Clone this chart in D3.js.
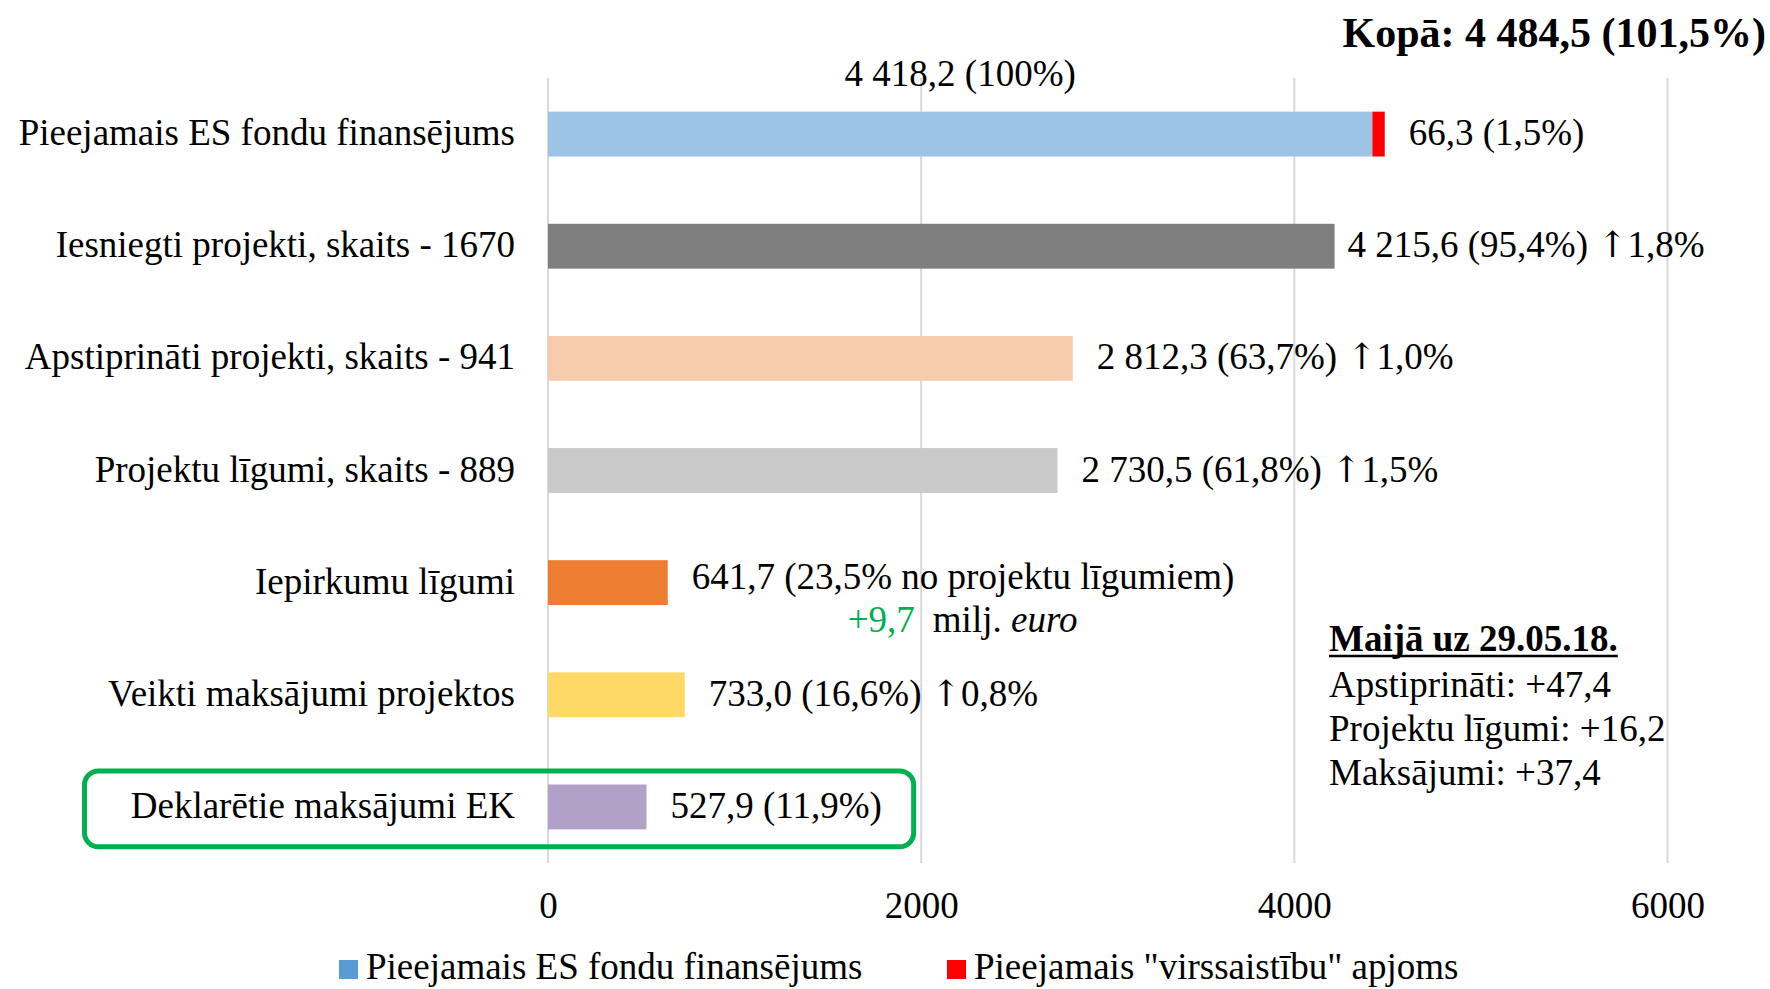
<!DOCTYPE html>
<html>
<head>
<meta charset="utf-8">
<script src="https://cdn.jsdelivr.net/npm/d3@7"></script>
<style>
  html, body { margin: 0; padding: 0; background: #fff; }
  svg { display: block; }
  text { font-family: "Liberation Serif", "Times New Roman", serif; fill: #000; }
</style>
</head>
<body>
<svg id="chart" width="1770" height="989"></svg>
<script>
// ---- data ----
const categories = [
  "Pieejamais ES fondu finansējums",
  "Iesniegti projekti, skaits - 1670",
  "Apstiprināti projekti, skaits - 941",
  "Projektu līgumi, skaits - 889",
  "Iepirkumu līgumi",
  "Veikti maksājumi projektos",
  "Deklarētie maksājumi EK"
];
const mainValues = [4418.2, 4215.6, 2812.3, 2730.5, 641.7, 733.0, 527.9];
const overValues = [66.3, 0, 0, 0, 0, 0, 0];
const barColors = ["#9DC3E6", "#7F7F7F", "#F8CBAD", "#C9C9C9", "#ED7D31", "#FFD966", "#B1A0C7"];
const overColor = "#FF0000";
const valueLabels = [
  "66,3 (1,5%)",
  "4 215,6 (95,4%) ↑1,8%",
  "2 812,3 (63,7%) ↑1,0%",
  "2 730,5 (61,8%) ↑1,5%",
  "641,7 (23,5% no projektu līgumiem)",
  "733,0 (16,6%) ↑0,8%",
  "527,9 (11,9%)"
];
const topLabel = "4 418,2 (100%)";
const totalLabel = "Kopā: 4 484,5 (101,5%)";
const procurementDelta = "+9,7";
const xTicks = [0, 2000, 4000, 6000];
const noteTitle = "Maijā uz 29.05.18.";
const noteLines = ["Apstiprināti: +47,4", "Projektu līgumi: +16,2", "Maksājumi: +37,4"];
const legendItems = [
  { name: "Pieejamais ES fondu finansējums", color: "#5B9BD5" },
  { name: "Pieejamais \"virssaistību\" apjoms", color: "#FF0000" }
];

// ---- layout ----
const svg = d3.select("#chart");
const FS = 37;
const x = d3.scaleLinear().domain([0, 6000]).range([548, 1667.5]);
const y = d3.scaleBand().domain(categories).range([78, 863]).paddingInner(0.6).paddingOuter(0.3);
const plotTop = 78, plotBottom = 863;

// gridlines
svg.append("g").selectAll("line").data(xTicks).join("line")
  .attr("x1", d => x(d)).attr("x2", d => x(d))
  .attr("y1", plotTop).attr("y2", plotBottom)
  .attr("stroke", "#D9D9D9").attr("stroke-width", 2);

// axis tick labels
const xAxis = d3.axisBottom(x).tickValues(xTicks).tickFormat(d3.format("d")).tickSize(0).tickPadding(0);
const ax = svg.append("g").attr("transform", `translate(0,${plotBottom})`).call(xAxis);
ax.select(".domain").remove();
ax.selectAll("text")
  .attr("font-family", "Liberation Serif, Times New Roman, serif")
  .attr("font-size", FS).attr("fill", "#000")
  .attr("dy", null).attr("y", 55);

// bars
const rows = categories.map((c, i) => ({ c, i, v: mainValues[i], o: overValues[i] }));
svg.append("g").selectAll("rect").data(rows).join("rect")
  .attr("x", x(0)).attr("y", d => y(d.c))
  .attr("width", d => x(d.v) - x(0)).attr("height", y.bandwidth())
  .attr("fill", d => barColors[d.i]);
svg.append("g").selectAll("rect").data(rows.filter(d => d.o > 0)).join("rect")
  .attr("x", d => x(d.v)).attr("y", d => y(d.c))
  .attr("width", d => x(d.v + d.o) - x(d.v)).attr("height", y.bandwidth())
  .attr("fill", overColor);

// category labels
svg.append("g").selectAll("text").data(rows).join("text")
  .attr("x", 515).attr("y", d => y(d.c) + y.bandwidth() / 2 + 11)
  .attr("text-anchor", "end").attr("font-size", FS)
  .text(d => d.c);

// value labels (arrow rendered with a taller thin glyph)
const gaps = d => (d.i === 1 ? 13 : 24);
const vl = svg.append("g").selectAll("text").data(rows).join("text")
  .attr("x", d => x(d.v + d.o) + gaps(d))
  .attr("y", d => y(d.c) + y.bandwidth() / 2 + (d.i === 4 ? 6 : 11))
  .attr("font-size", FS);
vl.each(function (d) {
  const parts = valueLabels[d.i].split("↑");
  const t = d3.select(this);
  t.append("tspan").text(parts[0].trimEnd() + "\u00A0");
  if (parts.length > 1) {
    t.append("tspan").attr("font-family", "DejaVu Serif").attr("font-size", 36).text("↑");
    t.append("tspan").text(parts[1]);
  }
});

// second line for procurement
const pr = rows[4];
const l2 = svg.append("text")
  .attr("x", x(pr.v) + 180).attr("y", y(pr.c) + y.bandwidth() / 2 + 49)
  .attr("font-size", FS);
l2.append("tspan").attr("fill", "#00B050").text(procurementDelta);
l2.append("tspan").attr("dx", 18).text("milj. ");
l2.append("tspan").attr("font-style", "italic").text("euro");

// top label centered over first bar
svg.append("text")
  .attr("x", x(mainValues[0] / 2)).attr("y", 86)
  .attr("text-anchor", "middle").attr("font-size", FS)
  .text(topLabel);

// total
svg.append("text")
  .attr("x", 1766).attr("y", 47)
  .attr("text-anchor", "end").attr("font-size", 42).attr("font-weight", "bold")
  .text(totalLabel);

// highlight box around last category
const last = categories[categories.length - 1];
svg.append("rect")
  .attr("x", 84.5).attr("y", y(last) - 13.5)
  .attr("width", x(2000) - 7.5 - 84.5).attr("height", y.bandwidth() + 31)
  .attr("rx", 14).attr("ry", 14)
  .attr("fill", "none").attr("stroke", "#00B050").attr("stroke-width", 5);

// note box
const nt = svg.append("text")
  .attr("x", 1329).attr("y", 651)
  .attr("font-size", FS).attr("font-weight", "bold")
  .text(noteTitle);
const ntw = nt.node().getComputedTextLength();
svg.append("line")
  .attr("x1", 1329).attr("x2", 1329 + ntw)
  .attr("y1", 656).attr("y2", 656)
  .attr("stroke", "#000").attr("stroke-width", 2.5);
svg.append("g").selectAll("text").data(noteLines).join("text")
  .attr("x", 1329).attr("y", (d, i) => 697 + i * 44)
  .attr("font-size", FS)
  .text(d => d);

// legend
const legendX = [339, 947];
const lg = svg.append("g").selectAll("g").data(legendItems).join("g")
  .attr("transform", (d, i) => `translate(${legendX[i]},0)`);
lg.append("rect").attr("x", 0).attr("y", 960).attr("width", 19).attr("height", 19)
  .attr("fill", d => d.color);
lg.append("text").attr("x", 27).attr("y", 979).attr("font-size", FS).text(d => d.name);
</script>
</body>
</html>
